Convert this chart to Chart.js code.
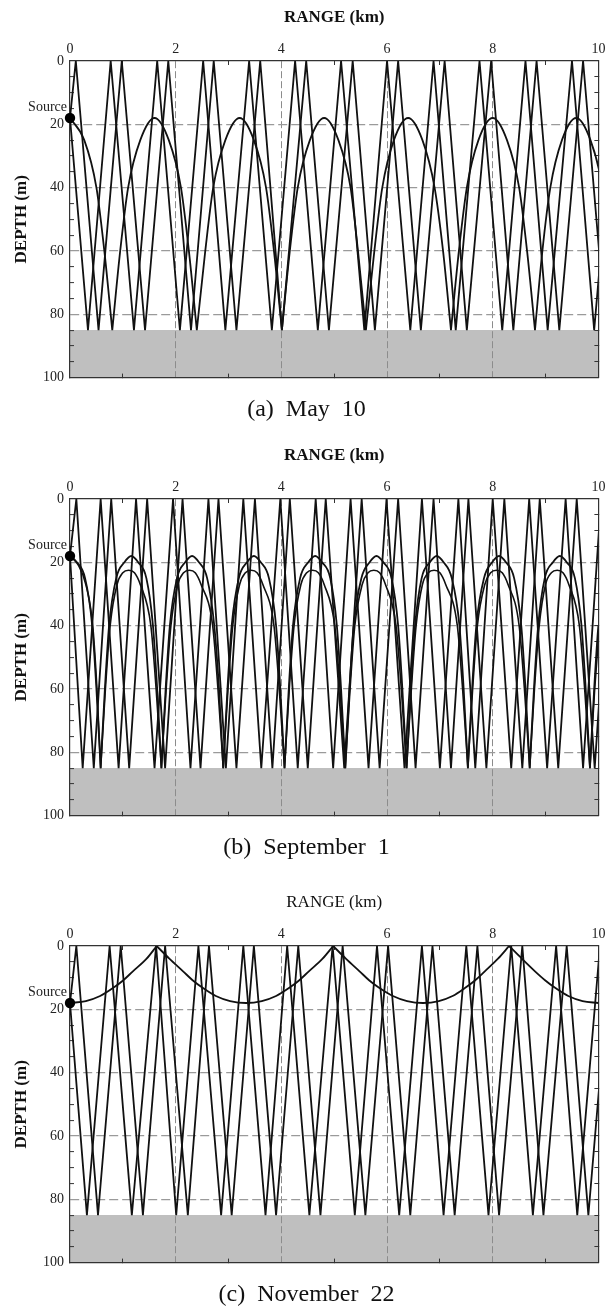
<!DOCTYPE html>
<html>
<head>
<meta charset="utf-8">
<title>Ray traces - May 10 / September 1 / November 22</title>
<script src="https://cdn.jsdelivr.net/npm/chart.js@4.4.1/dist/chart.umd.min.js"></script>
<style>
  html, body { margin: 0; padding: 0; background: #fff; }
  body { width: 613px; height: 1309px; position: relative; overflow: hidden; }
  .panel { position: absolute; left: 0; width: 613px; height: 424px; }
</style>
</head>
<body>
<div class="panel" style="top:0px"><canvas id="chartA" width="613" height="424"></canvas></div>
<div class="panel" style="top:438px"><canvas id="chartB" width="613" height="424"></canvas></div>
<div class="panel" style="top:885px"><canvas id="chartC" width="613" height="424"></canvas></div>

<script>
// ── Shared axis data ──
const rangeLabels = [0, 2, 4, 6, 8, 10];        // km
const depthLabels = [0, 20, 40, 60, 80, 100];   // m
const seabedX     = [0, 10];                    // km
const seabedTop   = [85, 85];                   // m, sediment surface
const seabedBase  = 100;                        // m
const sourceX     = [0];
const sourceDepth = [18];

// ── (a) May 10 ──
const aUpX   = [0, 0.11, 0.54, 0.98, 1.42, 1.86, 2.29, 2.72, 3.15, 3.60, 4.01, 4.47, 4.90,
                5.35, 5.77, 6.21, 6.64, 7.09, 7.51, 7.97, 8.39, 8.83, 9.26, 9.71, 10.14];
const aUpY   = [18, 0, 85, 0, 85, 0, 85, 0, 85, 0, 85, 0, 85,
                0, 85, 0, 85, 0, 85, 0, 85, 0, 85, 0, 85];
const aDownX = [0, 0.34, 0.77, 1.21, 1.65, 2.08, 2.52, 2.94, 3.39, 3.82, 4.26, 4.69, 5.13,
                5.57, 6.00, 6.44, 6.88, 7.30, 7.75, 8.18, 8.62, 9.04, 9.50, 9.92, 10.36];
const aDownY = [18, 85, 0, 85, 0, 85, 0, 85, 0, 85, 0, 85, 0,
                85, 0, 85, 0, 85, 0, 85, 0, 85, 0, 85, 0];
// refracted ray, null = bottom reflection (break in the curve)
const aArcX = [0, 0.27, 0.50, 0.65, 0.80,
               0.80, 0.80, 0.95, 1.10, 1.33, 1.60, 1.87, 2.10, 2.25, 2.40,
               2.40, 2.40, 2.56, 2.71, 2.94, 3.21, 3.48, 3.71, 3.86, 4.01,
               4.01, 4.01, 4.16, 4.31, 4.54, 4.81, 5.08, 5.31, 5.45, 5.60,
               5.60, 5.60, 5.76, 5.91, 6.13, 6.40, 6.67, 6.90, 7.06, 7.21,
               7.21, 7.21, 7.36, 7.51, 7.73, 8.00, 8.27, 8.50, 8.65, 8.80,
               8.80, 8.80, 8.94, 9.09, 9.31, 9.58, 9.85, 10.08, 10.23, 10.38];
const aArcY = [18, 25, 40, 60, 85,
               null, 85, 60, 40, 25, 18, 25, 40, 60, 85,
               null, 85, 60, 40, 25, 18, 25, 40, 60, 85,
               null, 85, 60, 40, 25, 18, 25, 40, 60, 85,
               null, 85, 60, 40, 25, 18, 25, 40, 60, 85,
               null, 85, 60, 40, 25, 18, 25, 40, 60, 85,
               null, 85, 60, 40, 25, 18, 25, 40, 60, 85];

// ── (b) September 1 ──
const bUpX   = [0, 0.12, 0.45, 0.78, 1.12, 1.46, 1.80, 2.13, 2.47, 2.81, 3.15, 3.50, 3.83, 4.16, 4.50, 4.84,
                5.19, 5.52, 5.86, 6.21, 6.54, 6.88, 7.21, 7.54, 7.88, 8.22, 8.56, 8.89, 9.24, 9.59, 9.93, 10.27];
const bUpY   = [18, 0, 85, 0, 85, 0, 85, 0, 85, 0, 85, 0, 85, 0, 85, 0,
                85, 0, 85, 0, 85, 0, 85, 0, 85, 0, 85, 0, 85, 0, 85, 0];
const bDownX = [0, 0.24, 0.58, 0.92, 1.25, 1.60, 1.95, 2.28, 2.62, 2.95, 3.28, 3.62, 3.98, 4.31, 4.65,
                4.98, 5.31, 5.65, 5.99, 6.33, 6.66, 7.00, 7.35, 7.67, 8.00, 8.35, 8.69, 9.03, 9.38, 9.71, 10.05];
const bDownY = [18, 85, 0, 85, 0, 85, 0, 85, 0, 85, 0, 85, 0, 85, 0,
                85, 0, 85, 0, 85, 0, 85, 0, 85, 0, 85, 0, 85, 0, 85, 0];
// outer arches (turning at 18 m)
const bArcX = [0, 0.13, 0.285, 0.42, 0.50, 0.58,
               0.58, 0.58, 0.66, 0.74, 0.875, 1.03, 1.16, 1.29, 1.445, 1.57, 1.65, 1.73,
               1.73, 1.73, 1.81, 1.89, 2.025, 2.18, 2.31, 2.44, 2.595, 2.73, 2.82, 2.90,
               2.90, 2.90, 2.98, 3.06, 3.195, 3.35, 3.48, 3.61, 3.765, 3.90, 3.98, 4.06,
               4.06, 4.06, 4.14, 4.22, 4.355, 4.51, 4.64, 4.77, 4.925, 5.05, 5.13, 5.21,
               5.21, 5.21, 5.29, 5.37, 5.515, 5.67, 5.80, 5.93, 6.085, 6.21, 6.29, 6.37,
               6.37, 6.37, 6.45, 6.53, 6.655, 6.81, 6.94, 7.07, 7.225, 7.37, 7.45, 7.53,
               7.53, 7.53, 7.61, 7.69, 7.835, 7.99, 8.12, 8.25, 8.405, 8.54, 8.62, 8.70,
               8.70, 8.70, 8.78, 8.86, 8.985, 9.14, 9.27, 9.40, 9.555, 9.68, 9.76, 9.84,
               9.84, 9.84, 9.92, 10.00, 10.135, 10.29, 10.42];
const bArcY = [18, 20, 25, 40, 60, 85,
               null, 85, 60, 40, 25, 20, 18, 20, 25, 40, 60, 85,
               null, 85, 60, 40, 25, 20, 18, 20, 25, 40, 60, 85,
               null, 85, 60, 40, 25, 20, 18, 20, 25, 40, 60, 85,
               null, 85, 60, 40, 25, 20, 18, 20, 25, 40, 60, 85,
               null, 85, 60, 40, 25, 20, 18, 20, 25, 40, 60, 85,
               null, 85, 60, 40, 25, 20, 18, 20, 25, 40, 60, 85,
               null, 85, 60, 40, 25, 20, 18, 20, 25, 40, 60, 85,
               null, 85, 60, 40, 25, 20, 18, 20, 25, 40, 60, 85,
               null, 85, 60, 40, 25, 20, 18];
// inner arches (turning near 22 m, slightly left of the outer ones)
const bArc2X = [0, 0.16, 0.30, 0.43, 0.51, 0.58,
                0.58, 0.58, 0.67, 0.76, 0.89, 1.00, 1.11, 1.22, 1.33, 1.53, 1.63, 1.73,
                1.73, 1.73, 1.82, 1.91, 2.04, 2.15, 2.26, 2.37, 2.48, 2.70, 2.80, 2.90,
                2.90, 2.90, 2.99, 3.08, 3.21, 3.32, 3.43, 3.54, 3.65, 3.86, 3.96, 4.06,
                4.06, 4.06, 4.15, 4.24, 4.37, 4.48, 4.59, 4.70, 4.81, 5.01, 5.11, 5.21,
                5.21, 5.21, 5.30, 5.39, 5.53, 5.64, 5.75, 5.86, 5.97, 6.17, 6.27, 6.37,
                6.37, 6.37, 6.46, 6.55, 6.67, 6.78, 6.89, 7.00, 7.11, 7.33, 7.43, 7.53,
                7.53, 7.53, 7.62, 7.71, 7.85, 7.96, 8.07, 8.18, 8.29, 8.50, 8.60, 8.70,
                8.70, 8.70, 8.79, 8.88, 9.00, 9.11, 9.22, 9.33, 9.44, 9.64, 9.74, 9.84,
                9.84, 9.84, 9.93, 10.02];
const bArc2Y = [18, 21, 27, 40, 60, 85,
                null, 85, 60, 40, 27, 23.3, 22.5, 23.3, 27, 40, 60, 85,
                null, 85, 60, 40, 27, 23.3, 22.5, 23.3, 27, 40, 60, 85,
                null, 85, 60, 40, 27, 23.3, 22.5, 23.3, 27, 40, 60, 85,
                null, 85, 60, 40, 27, 23.3, 22.5, 23.3, 27, 40, 60, 85,
                null, 85, 60, 40, 27, 23.3, 22.5, 23.3, 27, 40, 60, 85,
                null, 85, 60, 40, 27, 23.3, 22.5, 23.3, 27, 40, 60, 85,
                null, 85, 60, 40, 27, 23.3, 22.5, 23.3, 27, 40, 60, 85,
                null, 85, 60, 40, 27, 23.3, 22.5, 23.3, 27, 40, 60, 85,
                null, 85, 60, 40];

// ── (c) November 22 ──
const cUpX   = [0, 0.12, 0.53, 0.96, 1.38, 1.80, 2.23, 2.63, 3.06, 3.48, 3.90, 4.32, 4.74,
                5.16, 5.59, 6.02, 6.44, 6.86, 7.28, 7.71, 8.12, 8.56, 8.96, 9.40, 9.81, 10.24];
const cUpY   = [18, 0, 85, 0, 85, 0, 85, 0, 85, 0, 85, 0, 85,
                0, 85, 0, 85, 0, 85, 0, 85, 0, 85, 0, 85, 0];
const cDownX = [0, 0.32, 0.75, 1.17, 1.63, 2.01, 2.43, 2.86, 3.28, 3.70, 4.11, 4.53, 4.97,
                5.39, 5.81, 6.23, 6.66, 7.07, 7.50, 7.92, 8.35, 8.76, 9.20, 9.60, 10.03];
const cDownY = [18, 85, 0, 85, 0, 85, 0, 85, 0, 85, 0, 85, 0,
                85, 0, 85, 0, 85, 0, 85, 0, 85, 0, 85, 0];
// surface-reflected refracted ray, null = surface reflection
const cArcX = [0, 0.30, 0.57, 0.82, 1.01, 1.19, 1.45, 1.64,
               1.64, 1.64, 1.88, 2.14, 2.32, 2.51, 2.76, 3.03, 3.33, 3.63, 3.90, 4.15, 4.34, 4.52, 4.78, 4.98,
               4.98, 4.98, 5.22, 5.48, 5.66, 5.85, 6.11, 6.38, 6.68, 6.98, 7.24, 7.48, 7.67, 7.85, 8.10, 8.31,
               8.31, 8.31, 8.55, 8.80, 8.99, 9.18, 9.43, 9.70, 10.0];
const cArcY = [18, 17.4, 15.8, 13.2, 10.8, 8, 4, 0,
               null, 0, 4, 8, 10.8, 13.2, 15.8, 17.4, 18, 17.4, 15.8, 13.2, 10.8, 8, 4, 0,
               null, 0, 4, 8, 10.8, 13.2, 15.8, 17.4, 18, 17.4, 15.8, 13.2, 10.8, 8, 4, 0,
               null, 0, 4, 8, 10.8, 13.2, 15.8, 17.4, 18];

// ── Styles ──
const SERIF = '"Liberation Serif", "Times New Roman", Times, serif';
const INK   = '#111111';
const GRID  = '#8c8c8c';
const FRAME = '#333333';
const NONE  = 'rgba(0,0,0,0)';
const RAY_W = 1.8;

Chart.defaults.font.family = SERIF;

function pts(xs, ys) { return xs.map((x, i) => ({ x: x, y: ys[i] })); }
function inner(list, v) { return list.includes(v) && v !== list[0] && v !== list[list.length - 1]; }

function straightRay(xs, ys) {
  return { data: pts(xs, ys), borderColor: INK, borderWidth: RAY_W, pointRadius: 0, tension: 0, order: 2 };
}
function bentRay(xs, ys, w) {
  return { data: pts(xs, ys), borderColor: INK, borderWidth: w || RAY_W, pointRadius: 0,
           cubicInterpolationMode: 'monotone', capBezierPoints: false, order: 2 };
}
function seabed() {
  return { data: pts(seabedX, seabedTop), borderWidth: 0, borderColor: NONE, pointRadius: 0,
           backgroundColor: '#bfbfbf', fill: { value: seabedBase }, order: 9 };
}
function source() {
  return { label: 'Source', data: pts(sourceX, sourceDepth), showLine: false, pointRadius: 5.2,
           pointBackgroundColor: '#000', pointBorderColor: '#000', pointBorderWidth: 0, clip: false, order: 0 };
}

// "Source" text next to the marker
const sourceLabel = {
  id: 'sourceLabel',
  afterDatasetsDraw(chart) {
    const idx = chart.data.datasets.findIndex(d => d.label === 'Source');
    if (idx < 0) return;
    const p = chart.getDatasetMeta(idx).data[0];
    const ctx = chart.ctx;
    ctx.save();
    ctx.font = '14px ' + SERIF;
    ctx.fillStyle = '#222';
    ctx.textAlign = 'right';
    ctx.textBaseline = 'middle';
    ctx.fillText('Source', p.x - 3, p.y - 11);
    ctx.restore();
  }
};

function buildScales(rangeBold) {
  return {
    x: {
      type: 'linear', position: 'top', min: 0, max: 10,
      afterFit: s => { s.height = 61; },
      ticks: { stepSize: 1, autoSkip: false, maxRotation: 0, padding: 7.6, color: '#222',
               font: { size: 14 }, callback: v => rangeLabels.includes(v) ? v : '' },
      grid: { color: c => inner(rangeLabels, c.tick.value) ? GRID : NONE, lineWidth: 1,
              tickLength: -4, tickWidth: 1,
              tickColor: c => rangeLabels.includes(c.tick.value) ? NONE : FRAME },
      border: { color: FRAME, width: 1.2, dash: [7, 3] },
      title: { display: true, text: 'RANGE (km)', color: '#111',
               font: { size: 17, weight: rangeBold ? 'bold' : 'normal' }, padding: { top: 7, bottom: 0 } }
    },
    x2: {
      type: 'linear', position: 'bottom', min: 0, max: 10,
      afterFit: s => { s.height = 0; },
      ticks: { display: false, stepSize: 1, autoSkip: false },
      grid: { drawOnChartArea: false, tickLength: -4, tickWidth: 1,
              tickColor: c => rangeLabels.includes(c.tick.value) ? NONE : FRAME },
      border: { color: FRAME, width: 1.2 }
    },
    y: {
      type: 'linear', position: 'left', reverse: true, min: 0, max: 100,
      afterFit: s => { s.width = 70; },
      ticks: { stepSize: 5, autoSkip: false, padding: 10, color: '#222',
               font: { size: 14 }, callback: v => depthLabels.includes(v) ? v : '' },
      grid: { color: c => inner(depthLabels, c.tick.value) ? '#9a9a9a' : NONE, lineWidth: 1.2,
              tickLength: -4, tickWidth: 1,
              tickColor: c => depthLabels.includes(c.tick.value) ? NONE : FRAME },
      border: { color: FRAME, width: 1.2, dash: [9, 4] },
      title: { display: true, text: 'DEPTH (m)', color: '#111',
               font: { size: 17, weight: 'bold' }, padding: { top: 11.4, bottom: 0 } }
    },
    y2: {
      type: 'linear', position: 'right', reverse: true, min: 0, max: 100,
      afterFit: s => { s.width = 13; },
      ticks: { display: false, stepSize: 5, autoSkip: false },
      grid: { drawOnChartArea: false, tickLength: -4, tickWidth: 1,
              tickColor: c => (c.tick.value === 0 || c.tick.value === 100) ? NONE : FRAME },
      border: { color: FRAME, width: 1.2 }
    }
  };
}

function makePanel(id, rays, rangeBold, caption) {
  return new Chart(document.getElementById(id), {
    type: 'line',
    data: { datasets: [seabed(), ...rays, source()] },
    options: {
      responsive: false,
      animation: false,
      events: [],
      layout: { padding: 0 },
      plugins: {
        legend: { display: false },
        tooltip: { enabled: false },
        filler: { drawTime: 'beforeDraw' },
        title: { display: true, position: 'bottom', text: caption, color: '#111',
                 font: { size: 24, weight: 'normal' }, padding: { top: 17.6, bottom: 0 } }
      },
      scales: buildScales(rangeBold)
    },
    plugins: [sourceLabel]
  });
}

makePanel('chartA', [straightRay(aUpX, aUpY), straightRay(aDownX, aDownY), bentRay(aArcX, aArcY)],
          true, '(a)  May  10');
makePanel('chartB', [straightRay(bUpX, bUpY), straightRay(bDownX, bDownY),
                     bentRay(bArcX, bArcY), bentRay(bArc2X, bArc2Y, 1.6)],
          true, '(b)  September  1');
makePanel('chartC', [straightRay(cUpX, cUpY), straightRay(cDownX, cDownY), bentRay(cArcX, cArcY)],
          false, '(c)  November  22');
</script>
</body>
</html>
